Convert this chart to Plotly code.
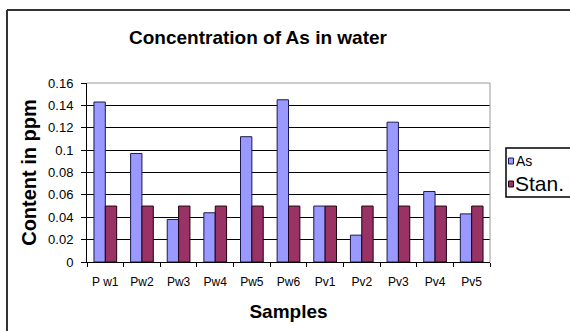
import plotly.graph_objects as go

categories = ["P w1", "Pw2", "Pw3", "Pw4", "Pw5", "Pw6", "Pv1", "Pv2", "Pv3", "Pv4", "Pv5"]
as_values = [0.143, 0.097, 0.038, 0.044, 0.112, 0.145, 0.050, 0.024, 0.125, 0.063, 0.043]
stan_values = [0.05] * 11
series_names = ["As", "Stan."]
series_colors = ["#9999FF", "#993366"]
y_ticks = [0, 0.02, 0.04, 0.06, 0.08, 0.1, 0.12, 0.14, 0.16]
y_tick_text = ["0", "0.02", "0.04", "0.06", "0.08", "0.1", "0.12", "0.14", "0.16"]

W, H = 570, 331
L, R, T, B = 87, 80, 83, 69
pw, ph = W - L - R, H - T - B

def px(x):
    return (x - L) / pw

def py(y):
    return (H - B - y) / ph

fig = go.Figure()
fig.add_trace(go.Bar(x=categories, y=as_values, name=series_names[0],
                     marker=dict(color=series_colors[0], line=dict(color="#1a1a50", width=1))))
fig.add_trace(go.Bar(x=categories, y=stan_values, name=series_names[1],
                     marker=dict(color=series_colors[1], line=dict(color="#200010", width=1))))

# manual legend (box, swatches, labels)
shapes = [
    dict(type="line", xref="paper", yref="paper", x0=0, x1=1, y0=1, y1=1,
         line=dict(color="#999999", width=1)),
    dict(type="line", xref="paper", yref="paper", x0=1, x1=1, y0=0, y1=1,
         line=dict(color="#999999", width=1)),
    dict(type="line", xref="paper", yref="paper", x0=px(7), x1=px(572), y0=py(10), y1=py(10),
         line=dict(color="#333333", width=2)),
    dict(type="line", xref="paper", yref="paper", x0=px(7), x1=px(7), y0=py(10), y1=py(335),
         line=dict(color="#333333", width=2)),
    dict(type="rect", xref="paper", yref="paper", x0=px(506), x1=px(575), y0=py(148), y1=py(197),
         line=dict(color="black", width=1.5), fillcolor="white"),
    dict(type="rect", xref="paper", yref="paper", x0=px(508.5), x1=px(513.5), y0=py(158), y1=py(164),
         line=dict(color="#1a1a50", width=1), fillcolor=series_colors[0]),
    dict(type="rect", xref="paper", yref="paper", x0=px(508.5), x1=px(513.5), y0=py(181), y1=py(187),
         line=dict(color="#200010", width=1), fillcolor=series_colors[1]),
]
annotations = [
    dict(text=series_names[0], xref="paper", yref="paper", x=px(514), y=py(161),
         xanchor="left", yanchor="middle", showarrow=False, font=dict(size=14)),
    dict(text=series_names[1], xref="paper", yref="paper", x=px(513), y=py(183),
         xanchor="left", yanchor="middle", showarrow=False, font=dict(size=21)),
]

fig.update_layout(
    width=W, height=H,
    margin=dict(l=L, r=R, t=T, b=B, autoexpand=False),
    paper_bgcolor="white", plot_bgcolor="white",
    barmode="group", bargap=0.38, bargroupgap=0,
    font=dict(family="Arial, Liberation Sans", size=12, color="black"),
    title=dict(text="<b>Concentration of As in water</b>", x=px(258), xref="paper",
               xanchor="center", y=1 - 37 / H, yanchor="middle",
               font=dict(size=19, family="Arial, Liberation Sans")),
    showlegend=False,
    xaxis=dict(title=dict(text="<b>Samples</b>", font=dict(size=19), standoff=16),
               showline=True, linecolor="black", linewidth=1, tickangle=0,
               ticks="outside", tickson="boundaries", ticklen=4, tickcolor="black",
               ticklabelstandoff=9,
               tickfont=dict(size=12), mirror=False, showgrid=False),
    yaxis=dict(title=dict(text="<b>Content in ppm</b>", font=dict(size=20), standoff=6),
               range=[0, 0.16], tickvals=y_ticks, ticktext=y_tick_text,
               showline=True, linecolor="black", linewidth=1,
               ticks="outside", ticklen=5, tickcolor="black", ticklabelstandoff=5,
               showgrid=True, gridcolor="black", gridwidth=1,
               zeroline=False, tickfont=dict(size=13)),
    shapes=shapes,
    annotations=annotations,
)

fig.write_html("out.html")
